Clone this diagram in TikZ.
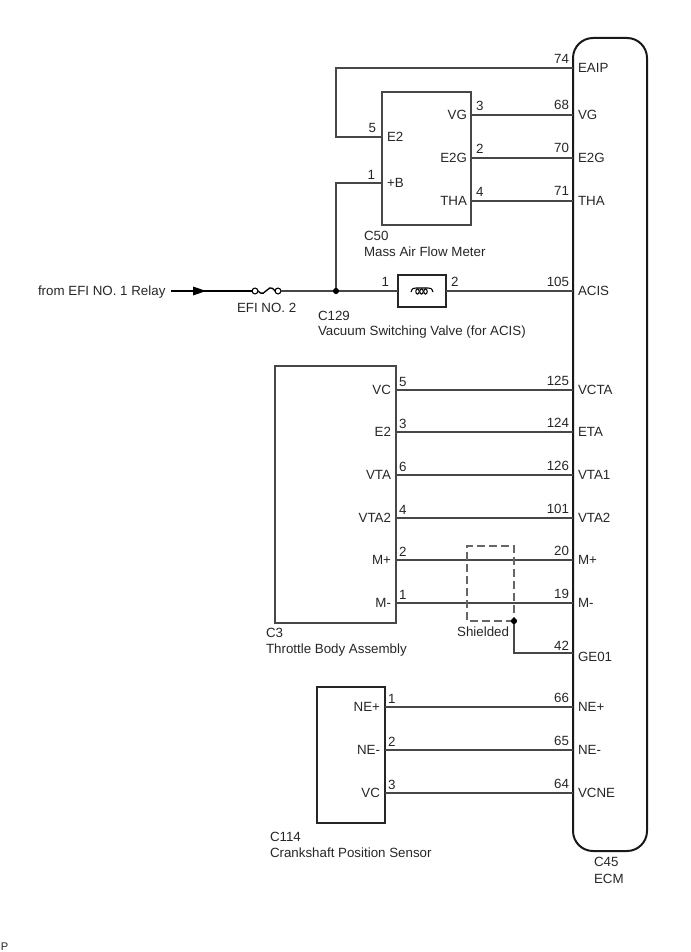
\documentclass[tikz,border=0pt]{standalone}
\usepackage{fontspec}
\setmainfont{Liberation Sans}
\usetikzlibrary{arrows.meta,calc}
\tikzset{
  every node/.style={font=\fontsize{10pt}{12pt}\selectfont,inner sep=0pt,outer sep=0pt,text=black!85},
  lw/.style={anchor=base west},
  le/.style={anchor=base east},
  wire/.style={draw=black!72,line width=0.85pt},
  boxs/.style={draw=black!72,line width=0.85pt,fill=none},
  blk/.style={draw=black!90,line width=1.5pt},
  dot/.style={circle,fill=black,minimum size=4.6pt},
  shield/.style={draw=black!60,line width=0.8pt,dash pattern=on 6pt off 3pt},
  term/.style={circle,draw=black,line width=0.8pt,minimum size=4.4pt,fill=white}
}
\begin{document}
\begin{tikzpicture}[x=0.75pt,y=-0.75pt]
\useasboundingbox (0,0) rectangle (690,952);
% ECM
\draw[blk,rounded corners=15pt] (573,38) rectangle (647,851);
\coordinate (eaip) at (573,68);
\coordinate (vg) at (573,115);
\coordinate (e2g) at (573,158);
\coordinate (tha) at (573,201);
\coordinate (acis) at (573,291);
\coordinate (vcta) at (573,390);
\coordinate (eta) at (573,432);
\coordinate (vta1) at (573,475);
\coordinate (vta2) at (573,518);
\coordinate (mp) at (573,560);
\coordinate (mm) at (573,603);
\coordinate (ge) at (573,653);
\coordinate (nep) at (573,707);
\coordinate (nem) at (573,750);
\coordinate (vcne) at (573,793);
\foreach \n/\t/\y in {a/EAIP/68,b/VG/115,c/E2G/158,d/THA/201,e/ACIS/291,f/VCTA/390,g/ETA/432,h/VTA1/475,i/VTA2/518,j/M+/560,k/M-/603,l/GE01/657,m/NE+/707,n/NE-/750,o/VCNE/793}
  \node[lw] (ecm\n) at (578,\y+4.5) {\t};
\foreach \n/\t/\x/\y in {a/74/569/64,b/68/569/110,c/70/569/153,d/71/569/196,e/105/569/286,f/125/569/385,g/124/569/427,h/126/569/470,i/101/569/513,j/20/569/555,k/19/569/598,l/42/569/650,m/66/569/702,n/65/569/745,o/64/569/788}
  \node[le] (pin\n) at (\x,\y) {\t};
\node[anchor=base west] (c45) at (594,866.5) {C45};
\node[anchor=base west] (ecmname) at (594,883) {ECM};
% C50
\draw[boxs] (382,92) rectangle (471,225);
\coordinate (c50e2) at (382,137);
\coordinate (c50b) at (382,183);
\coordinate (c50vg) at (471,115);
\coordinate (c50e2g) at (471,158);
\coordinate (c50tha) at (471,201);
\coordinate (bend1) at (336,68);
\coordinate (bend2) at (336,137);
\draw[wire] (eaip) -- (bend1) -- (bend2) -- (c50e2);
\draw[wire] (c50vg) -- (vg);
\draw[wire] (c50e2g) -- (e2g);
\draw[wire] (c50tha) -- (tha);
\node[lw] (t1) at (387,141.5) {E2};
\node[lw] (t2) at (387,187.5) {+B};
\node[le] (t3) at (467,119.5) {VG};
\node[le] (t4) at (467,162.5) {E2G};
\node[le] (t5) at (467,205.5) {THA};
\node[le] (p1) at (376,133) {5};
\node[le] (p2) at (375,180) {1};
\node[lw] (p3) at (476,111) {3};
\node[lw] (p4) at (476,154) {2};
\node[lw] (p5) at (476,197) {4};
\node[lw] (c50) at (364,241) {C50};
\node[lw] (c50n) at (364,257) {Mass Air Flow Meter};
% supply line
\node[lw] (from) at (38,295.5) {from EFI NO. 1 Relay};
\coordinate (start) at (171,291);
\node[term] (f1) at (255,291) {};
\node[term] (f2) at (278,291) {};
\node[dot] (j1) at (336,291) {};
\draw[draw=black,line width=0.9pt] (start) -- (f1);
\fill[black] (193,286.5) -- (206,291) -- (193,295.5) -- cycle;
\draw[black,line width=1pt] (f1.east) .. controls (262,295.5) and (265,292.5) .. (266.5,290.5) .. controls (268,288.5) and (271,285.5) .. (f2.west);
\draw[wire] (f2) -- (j1);
\node[lw] (efi) at (237,312) {EFI NO. 2};
\draw[wire] (c50b) -- (336,183) -- (j1);
% VSV
\draw[draw=black!85,line width=1.3pt] (398,275) rectangle (446,307);
\coordinate (vl) at (398,291);
\coordinate (vr) at (446,291);
\draw[wire] (j1) -- (vl);
\draw[wire] (vr) -- (acis);
\draw[black,line width=0.8pt] (411,292) .. controls (412,288) and (414,288) .. (416,288) -- (428,288) .. controls (430,288) and (432,288) .. (433,292);
\foreach \cx in {417.5,421.5,425.5}
  \draw[black,line width=0.8pt] (\cx,291.5) ellipse [x radius=1.7,y radius=2.6];
\node[le] (vp1) at (389,286) {1};
\node[lw] (vp2) at (451,286) {2};
\node[lw] (c129) at (318,320) {C129};
\node[lw] (vsv) at (318,335) {Vacuum Switching Valve (for ACIS)};
% Throttle
\draw[boxs] (275,366) rectangle (396,623);
\foreach \n/\t/\p/\y in {a/VC/5/390,b/E2/3/432,c/VTA/6/475,d/VTA2/4/518,e/M+/2/560,f/M-/1/603}{
  \node[le] (th\n) at (391,\y+4.5) {\t};
  \node[lw] (thp\n) at (399,\y-4) {\p};
  \coordinate (thc\n) at (396,\y);
}
\draw[wire] (thca) -- (vcta);
\draw[wire] (thcb) -- (eta);
\draw[wire] (thcc) -- (vta1);
\draw[wire] (thcd) -- (vta2);
\draw[wire] (thce) -- (mp);
\draw[wire] (thcf) -- (mm);
\node[lw] (c3) at (266,637) {C3};
\node[lw] (c3n) at (266,653) {Throttle Body Assembly};
% Shield
\draw[shield] (514,621) -- (467,621) -- (467,546) -- (514,546) -- (514,621);
\node[dot] (j2) at (514,621) {};
\draw[wire] (j2) -- (514,653) -- (ge);
\node[anchor=base east] (sh) at (509,636) {Shielded};
% Crank
\draw[draw=black!85,line width=1.1pt] (317,687) rectangle (385,823);
\foreach \n/\t/\p/\y in {a/NE+/1/707,b/NE-/2/750,c/VC/3/793}{
  \node[le] (cr\n) at (380,\y+4.5) {\t};
  \node[lw] (crp\n) at (388,\y-4) {\p};
  \coordinate (crc\n) at (385,\y);
}
\draw[wire] (crca) -- (nep);
\draw[wire] (crcb) -- (nem);
\draw[wire] (crcc) -- (vcne);
\node[lw] (c114) at (270,841) {C114};
\node[lw] (c114n) at (270,857) {Crankshaft Position Sensor};
\node[lw,font=\fontsize{8.3pt}{9pt}\selectfont] (pp) at (1,950.5) {P};
\end{tikzpicture}
\end{document}
